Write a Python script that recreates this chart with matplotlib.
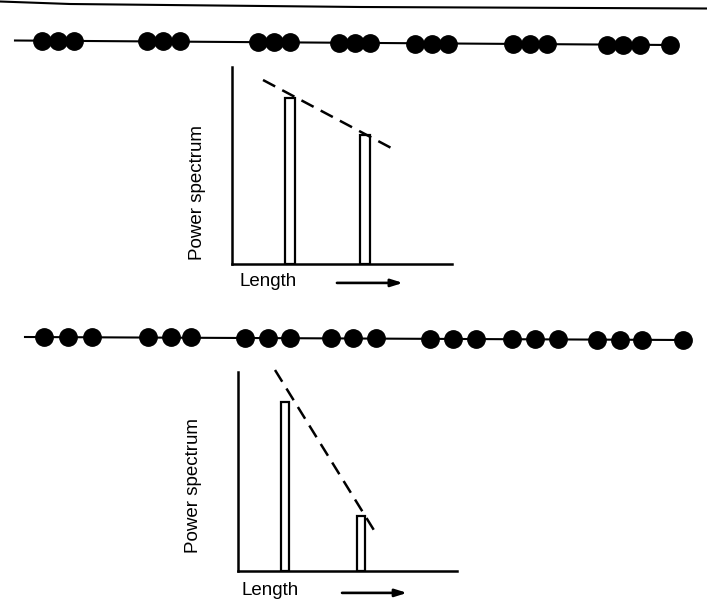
"""
Zwei Perlenketten mit zugehoerigem Leistungsspektrum (Skizze).
Oben: unregelmaessige Abstaende, unten: regelmaessigere Kette.
"""
import matplotlib
matplotlib.use("Agg")
import matplotlib.pyplot as plt

plt.rcParams["font.family"] = ["Liberation Sans", "DejaVu Sans"]

W, H = 707, 610

# --- Daten -----------------------------------------------------------
# Randlinie des Scans ganz oben (x, y in Pixeln der Vorlage)
edge_x = [0, 70, 360, 707]
edge_y = [1.5, 4, 7, 8.5]

# Obere Kette: Perlenmitten und Kettenlinie
beads_top_x = [42, 58, 74, 147, 163, 180, 258, 274, 290, 339, 355, 370,
               415, 432, 448, 513, 530, 547, 607, 623, 640, 670]
beads_top_y = [41, 41, 41, 41, 41, 41, 42, 42, 42, 43, 43, 43,
               44, 44, 44, 44, 44, 44, 45, 45, 45, 45]
chain_top_x = [15, 670]
chain_top_y = [40.5, 45]

# Untere Kette
beads_bot_x = [44, 68, 92, 148, 171, 191, 245, 268, 290, 331, 353, 376,
               430, 453, 476, 512, 535, 558, 597, 620, 642, 683]
beads_bot_y = [337, 337, 337, 337, 337, 337, 338, 338, 338, 338, 338, 338,
               339, 339, 339, 339, 339, 339, 340, 340, 340, 340]
chain_bot_x = [25, 683]
chain_bot_y = [337, 340]

# Spektren: Position auf der Laengenachse (0..100), Hoehe (0..100)
spec_top_pos = [26.4, 60.5]
spec_top_val = [84.3, 65.5]
env_top_x = [14.1, 73.2]
env_top_y = [93.4, 58.4]

spec_bot_pos = [21.5, 56.2]
spec_bot_val = [84.9, 27.6]
env_bot_x = [16.9, 62.6]
env_bot_y = [101.0, 19.6]

YLABEL = "Power spectrum"
XLABEL = "Length"


def px_rect(left, top, right, bottom):
    """Pixelbox der Vorlage -> Figure-Koordinaten fuer add_axes."""
    return [left / W, 1 - bottom / H, (right - left) / W, (bottom - top) / H]


def draw_spectrum(ax, pos, val, bar_w, env_x, env_y, ylab_xy, xlab_xy, arrow_x, arrow_y):
    ax.set_xlim(0, 100)
    ax.set_ylim(0, 100)
    for side in ("top", "right"):
        ax.spines[side].set_visible(False)
    for side in ("left", "bottom"):
        ax.spines[side].set_linewidth(1.8)
    ax.set_xticks([])
    ax.set_yticks([])
    ax.patch.set_alpha(0)

    ax.bar(pos, val, width=bar_w, facecolor="white", edgecolor="black",
           linewidth=1.6, zorder=3)
    ax.plot(env_x, env_y, color="black", linewidth=1.8,
            linestyle=(0, (5.5, 3.2)), clip_on=False, zorder=4)

    ax.text(ylab_xy[0], ylab_xy[1], YLABEL, transform=ax.transAxes,
            rotation=90, ha="center", va="center", fontsize=13.5)
    ax.text(xlab_xy[0], xlab_xy[1], XLABEL, transform=ax.transAxes,
            ha="center", va="center", fontsize=13.5)
    ax.annotate("", xy=(arrow_x[1], arrow_y), xytext=(arrow_x[0], arrow_y),
                xycoords="axes fraction", textcoords="axes fraction",
                annotation_clip=False,
                arrowprops=dict(arrowstyle="-|>,head_length=0.7,head_width=0.22",
                                color="black", linewidth=1.9,
                                shrinkA=0, shrinkB=0))


fig = plt.figure(figsize=(W / 100, H / 100), dpi=100)

# Hintergrund-Achse in Pixelkoordinaten fuer Ketten und Randlinie
bg = fig.add_axes([0, 0, 1, 1])
bg.set_xlim(0, W)
bg.set_ylim(H, 0)
bg.axis("off")

bg.plot(edge_x, edge_y, color="black", linewidth=1.5)
bg.plot(chain_top_x, chain_top_y, color="black", linewidth=1.5)
bg.plot(beads_top_x, beads_top_y, "o", color="black", markersize=12.5,
        linestyle="none")
bg.plot(chain_bot_x, chain_bot_y, color="black", linewidth=1.5)
bg.plot(beads_bot_x, beads_bot_y, "o", color="black", markersize=12.5,
        linestyle="none")

ax_top = fig.add_axes(px_rect(232, 67, 452, 264))
draw_spectrum(ax_top, spec_top_pos, spec_top_val, 4.5, env_top_x, env_top_y,
              ylab_xy=(-0.155, 0.365), xlab_xy=(0.164, -0.091),
              arrow_x=(0.477, 0.777), arrow_y=-0.096)

ax_bot = fig.add_axes(px_rect(238, 372, 457, 571))
draw_spectrum(ax_bot, spec_bot_pos, spec_bot_val, 3.9, env_bot_x, env_bot_y,
              ylab_xy=(-0.205, 0.432), xlab_xy=(0.146, -0.10),
              arrow_x=(0.475, 0.772), arrow_y=-0.11)

fig.savefig("out.png", dpi=100)
plt.close(fig)
